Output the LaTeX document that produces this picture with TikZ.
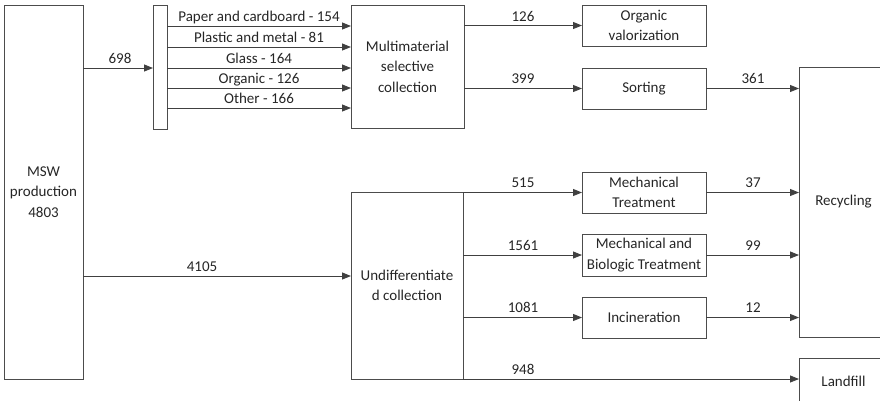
\documentclass[tikz,border=0pt]{standalone}
\usepackage{fontspec}
\setmainfont{Carlito}
\usetikzlibrary{arrows.meta}
\begin{document}
\begin{tikzpicture}[x=1pt,y=-1pt,
  box/.style={draw=black!70, line width=0.9pt, inner sep=1pt, outer sep=0pt,
    align=center, text=black!85, font=\fontsize{15}{20.5}\selectfont},
  flow/.style={draw=black!75, line width=0.9pt, -{Triangle[length=9pt,width=7pt]}},
  plain/.style={draw=black!75, line width=0.9pt},
  qty/.style={text=black!85, font=\fontsize{15}{18}\selectfont, inner sep=0pt, anchor=base}
]
\useasboundingbox (0,0) rectangle (880,400);
\clip (0,0) rectangle (880,400);

% boxes
\node[box, minimum width=79pt, minimum height=374pt] (msw) at (43.5,192) {MSW\\production\\4803};
\node[box, minimum width=14pt, minimum height=124pt] (bar) at (160,67) {};
\node[box, minimum width=113pt, minimum height=123pt] (multi) at (407.5,66.5) {Multimaterial\\selective\\collection};
\node[box, minimum width=112pt, minimum height=187pt] (undiff) at (407,285.5) {Undifferentiate\\d collection};
\node[box, minimum width=124pt, minimum height=41pt] (orgval) at (644,25.5) {Organic\\valorization};
\node[box, minimum width=124pt, minimum height=41pt] (sorting) at (644,88.5) {Sorting};
\node[box, minimum width=124pt, minimum height=41pt] (mech) at (644,192.5) {Mechanical\\Treatment};
\node[box, minimum width=124pt, minimum height=42pt] (mbt) at (644,255) {Mechanical and\\Biologic Treatment};
\node[box, minimum width=124pt, minimum height=41pt] (incin) at (644,317.5) {Incineration};
\node[box, minimum width=89pt, minimum height=270pt] (recyc) at (843.5,202) {Recycling};
\node[box, minimum width=89pt, minimum height=46pt] (landfill) at (843.5,381) {Landfill};

% production split
\draw[flow] (msw.east |- 0,68) -- (bar.west |- 0,68);
\node[qty] (l698) at (120,63) {698};
\draw[flow] (msw.east |- 0,276) -- (undiff.west |- 0,276);
\node[qty] (l4105) at (202,271) {4105};

% selective fractions
\draw[flow] (bar.east |- 0,26)  -- (multi.west |- 0,26);
\draw[flow] (bar.east |- 0,47)  -- (multi.west |- 0,47);
\draw[flow] (bar.east |- 0,68)  -- (multi.west |- 0,68);
\draw[flow] (bar.east |- 0,88)  -- (multi.west |- 0,88);
\draw[flow] (bar.east |- 0,108) -- (multi.west |- 0,108);
\node[qty] (f1) at (259,21)  {Paper and cardboard - 154};
\node[qty] (f2) at (259,42)  {Plastic and metal - 81};
\node[qty] (f3) at (259,63)  {Glass - 164};
\node[qty] (f4) at (259,83)  {Organic - 126};
\node[qty] (f5) at (259,103) {Other - 166};

% selective collection outputs
\draw[flow] (multi.east |- orgval.west) -- (orgval.west);
\node[qty] (l126) at (523,21) {126};
\draw[flow] (multi.east |- sorting.west) -- (sorting.west);
\node[qty] (l399) at (523,83.5) {399};

% undifferentiated collection outputs
\draw[flow] (undiff.east |- mech.west) -- (mech.west);
\node[qty] (l515) at (523,187.5) {515};
\draw[flow] (undiff.east |- mbt.west) -- (mbt.west);
\node[qty] (l1561) at (523,250) {1561};
\draw[flow] (undiff.east |- incin.west) -- (incin.west);
\node[qty] (l1081) at (523,312.5) {1081};
\draw[flow] (undiff.south east) -- (landfill.west |- undiff.south east);
\node[qty] (l948) at (523,374) {948};

% to recycling
\draw[flow] (sorting.east) -- (recyc.west |- sorting.east);
\node[qty] (l361) at (753,83.5) {361};
\draw[flow] (mech.east) -- (recyc.west |- mech.east);
\node[qty] (l37) at (753,187.5) {37};
\draw[flow] (mbt.east) -- (recyc.west |- mbt.east);
\node[qty] (l99) at (753,250) {99};
\draw[flow] (incin.east) -- (recyc.west |- incin.east);
\node[qty] (l12) at (753,312.5) {12};
\end{tikzpicture}
\end{document}
